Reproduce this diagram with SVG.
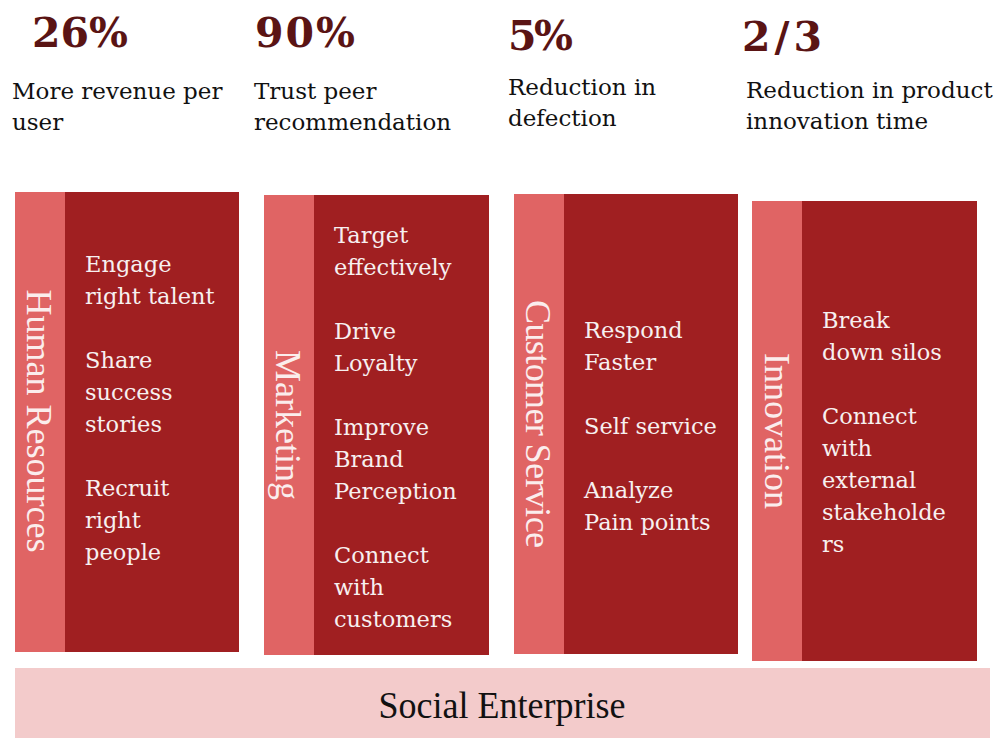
<svg xmlns="http://www.w3.org/2000/svg" width="998" height="738" viewBox="0 0 998 738">
<style>
.num{font-family:"DejaVu Serif","Liberation Serif",serif;font-weight:bold;font-size:41px;fill:#5A1414}
.cap{font-family:"DejaVu Serif","Liberation Serif",serif;font-size:23px;fill:#111}
.body{font-family:"DejaVu Serif","Liberation Serif",serif;font-size:22.5px;fill:#F7F0F0}
.vert{font-family:"Liberation Serif","Times New Roman",serif;font-size:36px;fill:#FBEDED;text-anchor:middle}
.light{fill:#E06464}
.dark{fill:#A01F21}
</style>
<rect width="998" height="738" fill="#FFFFFF"/>
<g id="stats">
<text class="num" x="32" y="47" textLength="96">26%</text>
<text class="num" x="255" y="47" textLength="100">90%</text>
<text class="num" x="508" y="50" textLength="65">5%</text>
<text class="num" x="742" y="51" textLength="80">2/3</text>
<text class="cap" x="12" y="99">More revenue per</text>
<text class="cap" x="12" y="130">user</text>
<text class="cap" x="254" y="99">Trust peer</text>
<text class="cap" x="254" y="130">recommendation</text>
<text class="cap" x="508" y="95">Reduction in</text>
<text class="cap" x="508" y="126">defection</text>
<text class="cap" x="746" y="98">Reduction in product</text>
<text class="cap" x="746" y="129">innovation time</text>
</g>
<g id="hr">
<rect class="dark" x="15" y="192" width="224" height="460"/>
<rect class="light" x="15" y="192" width="50" height="460"/>
<text class="vert" transform="translate(27,421) rotate(90)">Human Resources</text>
<text class="body" x="85" y="272">Engage</text>
<text class="body" x="85" y="304">right talent</text>
<text class="body" x="85" y="368">Share</text>
<text class="body" x="85" y="400">success</text>
<text class="body" x="85" y="432">stories</text>
<text class="body" x="85" y="496">Recruit</text>
<text class="body" x="85" y="528">right</text>
<text class="body" x="85" y="560">people</text>
</g>
<g id="marketing">
<rect class="dark" x="264" y="195" width="225" height="460"/>
<rect class="light" x="264" y="195" width="50" height="460"/>
<text class="vert" transform="translate(276,425) rotate(90)">Marketing</text>
<text class="body" x="334" y="243">Target</text>
<text class="body" x="334" y="275">effectively</text>
<text class="body" x="334" y="339">Drive</text>
<text class="body" x="334" y="371">Loyalty</text>
<text class="body" x="334" y="435">Improve</text>
<text class="body" x="334" y="467">Brand</text>
<text class="body" x="334" y="499">Perception</text>
<text class="body" x="334" y="563">Connect</text>
<text class="body" x="334" y="595">with</text>
<text class="body" x="334" y="627">customers</text>
</g>
<g id="customer-service">
<rect class="dark" x="514" y="194" width="224" height="460"/>
<rect class="light" x="514" y="194" width="50" height="460"/>
<text class="vert" transform="translate(526,424) rotate(90)" textLength="248">Customer Service</text>
<text class="body" x="584" y="338">Respond</text>
<text class="body" x="584" y="370">Faster</text>
<text class="body" x="584" y="434">Self service</text>
<text class="body" x="584" y="498">Analyze</text>
<text class="body" x="584" y="530">Pain points</text>
</g>
<g id="innovation">
<rect class="dark" x="752" y="201" width="225" height="460"/>
<rect class="light" x="752" y="201" width="50" height="460"/>
<text class="vert" transform="translate(765,431) rotate(90)">Innovation</text>
<text class="body" x="822" y="328">Break</text>
<text class="body" x="822" y="360">down silos</text>
<text class="body" x="822" y="424">Connect</text>
<text class="body" x="822" y="456">with</text>
<text class="body" x="822" y="488">external</text>
<text class="body" x="822" y="520">stakeholde</text>
<text class="body" x="822" y="552">rs</text>
</g>
<g id="social-enterprise">
<rect x="15" y="668" width="975" height="70" fill="#F3CBCB"/>
<text x="502" y="718" text-anchor="middle" font-family="Liberation Serif, serif" font-size="38" fill="#111" textLength="247" lengthAdjust="spacingAndGlyphs">Social Enterprise</text>
</g>
<g id="connectors"></g>
</svg>
